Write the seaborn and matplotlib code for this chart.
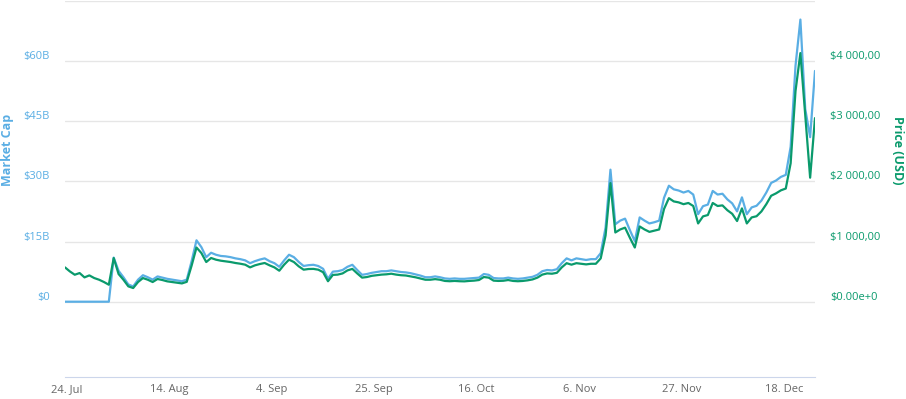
import numpy as np
import pandas as pd
import seaborn as sns
import matplotlib
matplotlib.use('Agg')
from matplotlib import pyplot as plt
from matplotlib.transforms import ScaledTranslation

# 价格 (USD)，每天一个值，从 7月23日 开始
price_usd = [
    570, 503, 448, 476, 404, 437, 393, 365, 327, 282,
    725, 460, 365, 255, 227, 327, 393, 365, 327, 377,
    360, 338, 327, 316, 304, 330, 600, 900, 809, 659,
    726, 698, 681, 670, 659, 643, 631, 615, 570, 604,
    626, 643, 604, 570, 515, 615, 698, 659, 587, 532,
    543, 545, 532, 490, 340, 445, 450, 470, 520, 545,
    470, 400, 410, 430, 440, 450, 455, 465, 450, 440,
    435, 420, 405, 385, 365, 365, 375, 365, 345, 340,
    345, 340, 338, 345, 350, 360, 410, 400, 350, 345,
    348, 360, 345, 340, 345, 355, 370, 400, 450, 470,
    465, 480, 570, 640, 615, 640, 630, 620, 630, 630,
    720, 1100, 1970, 1150, 1200, 1230, 1060, 900, 1250, 1200,
    1160, 1180, 1200, 1540, 1720, 1666, 1650, 1620, 1640, 1590,
    1300, 1417, 1440, 1640, 1590, 1600, 1520, 1460, 1340, 1550,
    1300, 1400, 1420, 1500, 1620, 1760, 1800, 1850, 1880, 2300,
    3500, 4130, 3100, 2060, 3050,
]

# 市值 (十亿美元)，8月1日之前为 0
market_cap_b = [
    0, 0, 0, 0, 0, 0, 0, 0, 0, 0,
    11.0, 7.7, 6.1, 4.3, 3.8, 5.5, 6.6, 6.1, 5.5, 6.3,
    6.0, 5.7, 5.5, 5.3, 5.1, 5.5, 10.1, 15.3, 13.6, 11.1,
    12.2, 11.7, 11.4, 11.3, 11.1, 10.8, 10.6, 10.3, 9.6, 10.1,
    10.5, 10.8, 10.1, 9.6, 8.7, 10.3, 11.7, 11.1, 9.9, 8.9,
    9.1, 9.2, 8.9, 8.2, 5.7, 7.5, 7.6, 7.9, 8.7, 9.2,
    7.9, 6.7, 6.9, 7.2, 7.4, 7.6, 7.6, 7.8, 7.6, 7.4,
    7.3, 7.1, 6.8, 6.5, 6.1, 6.1, 6.3, 6.1, 5.8, 5.7,
    5.8, 5.7, 5.7, 5.8, 5.9, 6.0, 6.9, 6.7, 5.9, 5.8,
    5.8, 6.0, 5.8, 5.7, 5.8, 6.0, 6.2, 6.7, 7.6, 7.9,
    7.8, 8.1, 9.6, 10.8, 10.3, 10.8, 10.6, 10.4, 10.6, 10.6,
    12.1, 18.5, 32.9, 19.3, 20.2, 20.7, 17.8, 15.1, 21.0, 20.2,
    19.5, 19.8, 20.2, 25.9, 28.9, 28.0, 27.7, 27.2, 27.6, 26.7,
    21.8, 23.8, 24.2, 27.6, 26.7, 26.9, 25.5, 24.5, 22.5, 26.0,
    21.8, 23.5, 23.9, 25.2, 27.2, 29.6, 30.2, 31.1, 31.6, 38.6,
    58.8, 70.3, 48.0, 41.0, 57.5,
]

tick_dates = ['2017-07-24', '2017-08-14', '2017-09-04', '2017-09-25',
              '2017-10-16', '2017-11-06', '2017-11-27', '2017-12-18']
tick_labels = ['24. Jul', '14. Aug', '4. Sep', '25. Sep',
               '16. Oct', '6. Nov', '27. Nov', '18. Dec']
cap_ticks = [0, 15, 30, 45, 60, 75]
cap_labels = ['$0', '$15B', '$30B', '$45B', '$60B', '']
price_ticks = [0, 1000, 2000, 3000, 4000, 5000]
price_labels = ['$0.00e+0', '$1 000,00', '$2 000,00', '$3 000,00', '$4 000,00', '']

blue = '#5aaee4'
green = '#0a9a6c'

dates = pd.date_range('2017-07-23 16:00', '2017-12-24 08:00', periods=len(price_usd))
df = pd.DataFrame({'date': dates, 'price': price_usd, 'cap': market_cap_b})

sns.set_style('white')
plt.rcParams['font.family'] = ['Open Sans', 'DejaVu Sans']

fig = plt.figure(figsize=(9.06, 3.99), dpi=100)
ax = fig.add_axes([65 / 906, 22 / 399, 750 / 906, 376.3 / 399])
ax2 = ax.twinx()

sns.lineplot(data=df, x='date', y='cap', ax=ax, color=blue, lw=1.6, estimator=None)
sns.lineplot(data=df, x='date', y='price', ax=ax2, color=green, lw=1.6, estimator=None)

ax.set_xlim(dates[0], dates[-1])
ax.set_ylim(-18.76, 75)
ax2.set_ylim(-1250.7, 5000)

# 网格线
ax.set_yticks(cap_ticks)
ax.grid(axis='y', color='#e6e6e6', lw=1)
ax.set_axisbelow(True)

for a in (ax, ax2):
    for s in a.spines.values():
        s.set_visible(False)
ax.spines['bottom'].set_visible(True)
ax.spines['bottom'].set_color('#ccd6eb')

ax.set_xticks(pd.to_datetime(tick_dates))
ax.set_xticklabels(tick_labels)
ax.tick_params(axis='x', length=4.5, width=0.8, color='#ccd6eb', pad=0.5,
               labelcolor='#666666', labelsize=8)

# 标签略高于网格线
shift = ScaledTranslation(0, 0.06, fig.dpi_scale_trans)
ax.set_yticklabels(cap_labels)
ax.tick_params(axis='y', length=0, pad=11, labelcolor=blue, labelsize=8)
for lab in ax.get_yticklabels():
    lab.set_transform(lab.get_transform() + shift)

ax2.set_yticks(price_ticks)
ax2.set_yticklabels(price_labels)
ax2.tick_params(axis='y', length=0, pad=11, labelcolor=green, labelsize=8)
for lab in ax2.get_yticklabels():
    lab.set_transform(lab.get_transform() + shift)

ax.set_xlabel('')
ax.set_ylabel('')
ax2.set_ylabel('')

fig.text(8 / 906, 1 - 150 / 399, 'Market Cap', rotation=90, color=blue,
         fontsize=9, fontweight='bold', ha='center', va='center')
fig.text(898 / 906, 1 - 150 / 399, 'Price (USD)', rotation=270, color=green,
         fontsize=9, fontweight='bold', ha='center', va='center')

plt.savefig('out.png', dpi=100)
